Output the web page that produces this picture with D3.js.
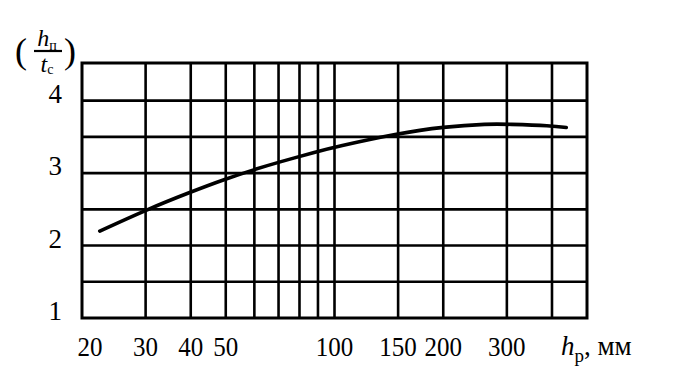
<!DOCTYPE html>
<html><head><meta charset="utf-8">
<script src="https://cdn.jsdelivr.net/npm/d3@7"></script>
<style>body{margin:0;background:#fff}svg{display:block}</style>
</head><body>
<svg id="c" width="679" height="383"></svg>
<script>
// Data
const xTickValues = [20, 30, 40, 50, 100, 150, 200, 300];
const xTickLabels = ["20", "30", "40", "50", "100", "150", "200", "300"];
const xGridValues = [30, 40, 50, 60, 70, 80, 90, 100, 150, 200, 300, 400];
const yTickValues = [1, 2, 3, 4];
const yTickLabels = ["1", "2", "3", "4"];
const yGridValues = [1.5, 2, 2.5, 3, 3.5, 4];
const curveX = [22.4, 30, 40, 50, 60, 70, 90, 100, 150, 200, 268, 300, 400, 438];
const curveY = [2.20, 2.49, 2.74, 2.92, 3.05, 3.15, 3.30, 3.36, 3.55, 3.64, 3.68, 3.675, 3.655, 3.63];

const svg = d3.select("#c");
const L = 82, R = 587, T = 63, B = 318;
const x = d3.scaleLog().domain([20, 500]).range([L, R]);
const y = d3.scaleLinear().domain([1, 4.52]).range([B, T]);
const font = "'Liberation Serif', 'DejaVu Serif', serif";

// grid
const g = svg.append("g").attr("stroke", "#000").attr("stroke-width", 2.6);
g.selectAll("line.v").data(xGridValues).enter().append("line")
  .attr("x1", d => x(d)).attr("x2", d => x(d)).attr("y1", T).attr("y2", B);
g.selectAll("line.h").data(yGridValues).enter().append("line")
  .attr("y1", d => y(d)).attr("y2", d => y(d)).attr("x1", L).attr("x2", R);
svg.append("rect").attr("x", L).attr("y", T).attr("width", R - L).attr("height", B - T)
  .attr("fill", "none").attr("stroke", "#000").attr("stroke-width", 3);

// curve
const pts = curveX.map((v, i) => [v, curveY[i]]);
svg.append("path").datum(pts)
  .attr("d", d3.line().x(d => x(d[0])).y(d => y(d[1])).curve(d3.curveBasis))
  .attr("fill", "none").attr("stroke", "#000").attr("stroke-width", 3.6).attr("stroke-linecap", "round");

// x labels
svg.append("g").selectAll("text").data(xTickValues).enter().append("text")
  .attr("x", (d, i) => x(d) + (i === 0 ? 8 : 0)).attr("y", 356)
  .attr("text-anchor", "middle").attr("font-family", font).attr("font-size", 27)
  .attr("textLength", (d, i) => xTickLabels[i].length * 12.5).attr("lengthAdjust", "spacingAndGlyphs")
  .text((d, i) => xTickLabels[i]);

// y labels
svg.append("g").selectAll("text").data(yTickValues).enter().append("text")
  .attr("x", 62).attr("y", d => y(d) + 2)
  .attr("text-anchor", "end").attr("font-family", font).attr("font-size", 27)
  .text((d, i) => yTickLabels[i]);

// x axis title
const xt = svg.append("text").attr("x", 561).attr("y", 355).attr("font-family", font).attr("font-size", 27);
xt.append("tspan").attr("font-style", "italic").text("h");
xt.append("tspan").attr("font-size", 19).attr("dy", 7).text("р");
xt.append("tspan").attr("dy", -7).text(", мм");

// y axis title
svg.append("text").attr("x", 15).attr("y", 63).attr("font-family", font).attr("font-size", 36).text("(");
svg.append("text").attr("x", 64).attr("y", 63).attr("font-family", font).attr("font-size", 36).text(")");
const num = svg.append("text").attr("x", 47).attr("y", 46).attr("text-anchor", "middle").attr("font-family", font).attr("font-size", 24);
num.append("tspan").attr("font-style", "italic").text("h");
num.append("tspan").attr("font-size", 14).attr("dy", 4).text("п");
svg.append("line").attr("x1", 34).attr("x2", 62).attr("y1", 51).attr("y2", 51).attr("stroke", "#000").attr("stroke-width", 2.2);
const den = svg.append("text").attr("x", 47).attr("y", 72).attr("text-anchor", "middle").attr("font-family", font).attr("font-size", 24);
den.append("tspan").attr("font-style", "italic").text("t");
den.append("tspan").attr("font-size", 14).attr("dy", 2).text("с");
</script>
</body></html>
